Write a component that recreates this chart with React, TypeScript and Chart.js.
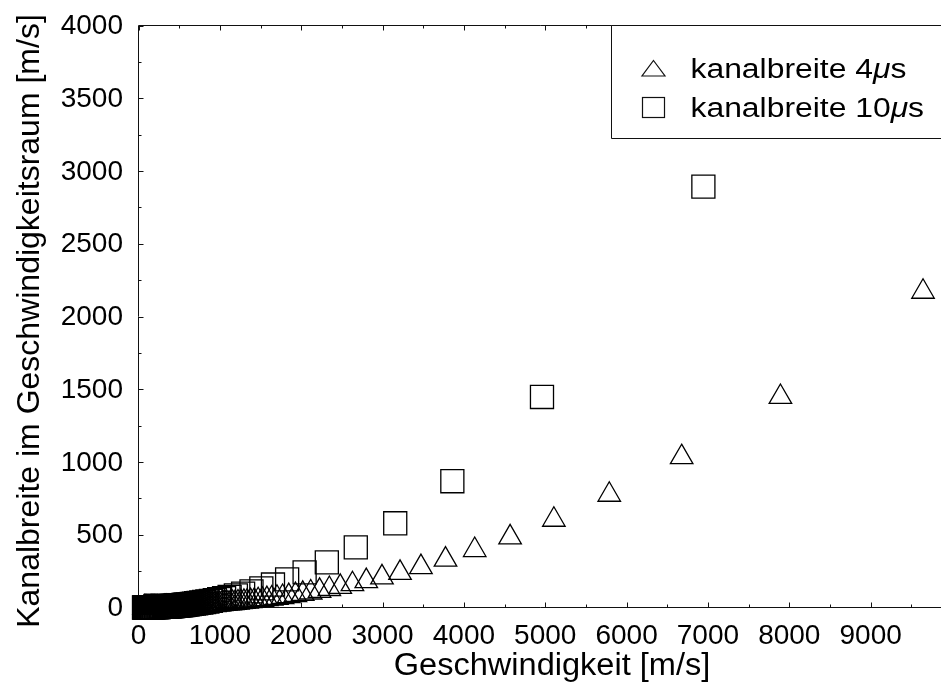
import React, { useEffect, useRef } from "react";
import { Chart, registerables } from "chart.js";
Chart.register(...registerables);

// Kanalbreite 4 µs: velocity [m/s] and channel width in velocity space [m/s]
const speed4 = [
  9644, 7891, 6677, 5787, 5106, 4568, 4133, 3774, 3472, 3215, 2993, 2800, 2630, 2480, 2346, 2226, 2117,
  2019, 1929, 1847, 1771, 1702, 1638, 1578, 1523, 1471, 1423, 1378, 1335, 1296, 1258, 1223, 1189, 1157,
  1127, 1099, 1072, 1046, 1021, 998, 975, 954, 933, 914, 895, 877, 859, 843, 827, 811, 796, 782, 768,
  755, 742, 729, 717, 706, 694, 684, 673, 663, 653, 643, 634, 625, 616, 607, 599, 591, 583, 575, 567,
  560, 553, 546, 539, 533, 526, 520, 514, 508, 502, 496, 490, 485, 480, 474, 469, 464, 459, 455, 450,
  445, 441, 432, 419, 408, 400, 389, 379, 369, 360, 349, 340, 330, 320, 311, 300, 290, 281, 270, 262,
  253, 243, 234, 226, 216.5, 208, 199.5, 192, 183.5, 176, 168, 160, 152, 144, 137, 129, 122, 116, 109,
  103, 97.4, 92, 86.7, 82, 76.7, 72, 68,
];
const width4 = [
  2170, 1447, 1033, 775, 603, 482, 395, 329, 278, 238, 207, 181, 160, 142, 127, 114, 103,
  94, 85.8, 78.6, 72.3, 66.8, 61.8, 57.4, 53.4, 49.9, 46.7, 43.8, 41.1, 38.7, 36.5, 34.4, 32.6, 30.9,
  29.3, 27.8, 26.5, 25.2, 24.0, 22.9, 21.9, 21.0, 20.1, 19.2, 18.5, 17.7, 17.0, 16.4, 15.7, 15.2, 14.6, 14.1, 13.6,
  13.1, 12.7, 12.3, 11.9, 11.5, 11.1, 10.8, 10.4, 10.1, 9.8, 9.5, 9.2, 9.0, 8.7, 8.5, 8.3, 8.0, 7.8, 7.6, 7.4,
  7.2, 7.0, 6.9, 6.7, 6.5, 6.4, 6.2, 6.1, 5.9, 5.8, 5.7, 5.5, 5.4, 5.3, 5.2, 5.1, 5.0, 4.9, 4.8, 4.7,
  4.6, 4.5, 4.3, 4.05, 3.83, 3.7, 3.49, 3.3, 3.14, 3.0, 2.8, 2.7, 2.51, 2.4, 2.23, 2.1, 1.94, 1.8, 1.68, 1.6,
  1.48, 1.4, 1.26, 1.2, 1.08, 1.0, 0.92, 0.85, 0.78, 0.71, 0.65, 0.59, 0.53, 0.48, 0.43, 0.39, 0.34, 0.31, 0.27,
  0.25, 0.22, 0.2, 0.17, 0.15, 0.14, 0.12, 0.11,
];

// Kanalbreite 10 µs
const speed10 = [
  6944, 4960, 3858, 3156, 2671, 2315, 2042, 1827, 1653, 1510, 1389, 1286, 1197, 1120, 1052, 992, 938,
  890, 847, 807, 772, 739, 709, 681, 655, 631, 609, 589, 569, 551, 534, 518, 503, 489, 476, 463, 451,
  440, 429, 418, 409, 399, 390, 382, 373, 366, 358, 351, 344, 337, 331, 325, 319, 313, 307, 297, 287,
  278, 269, 261, 250, 243, 233, 224, 216, 208, 198, 190, 182, 174.5, 166, 158.5, 152, 144, 137, 130,
  124, 117, 111, 105, 99, 92.6, 86.6, 81, 76, 71.6, 67.7,
];
const width10 = [
  2893, 1447, 868, 579, 413, 310, 241, 193, 158, 131.5, 111.3, 95.4, 82.7, 72.3, 63.8, 56.7, 50.8,
  45.7, 41.3, 37.6, 34.3, 31.4, 28.9, 26.7, 24.7, 23.0, 21.4, 20.0, 18.7, 17.5, 16.4, 15.5, 14.6, 13.8, 13.0, 12.3, 11.7,
  11.1, 10.6, 10.1, 9.6, 9.2, 8.8, 8.4, 8.0, 7.7, 7.4, 7.1, 6.8, 6.55, 6.3, 6.1, 5.85, 5.64, 5.4, 5.07, 4.7,
  4.44, 4.2, 3.93, 3.6, 3.4, 3.1, 2.89, 2.7, 2.49, 2.3, 2.07, 1.9, 1.75, 1.6, 1.45, 1.3, 1.2, 1.08, 0.97,
  0.88, 0.79, 0.71, 0.63, 0.56, 0.49, 0.43, 0.38, 0.33, 0.3, 0.26,
];

const xTickValues = [0, 1000, 2000, 3000, 4000, 5000, 6000, 7000, 8000, 9000];
const yTickValues = [0, 500, 1000, 1500, 2000, 2500, 3000, 3500, 4000];
const legendPrefixes = ["kanalbreite 4", "kanalbreite 10"];
const xTitle = "Geschwindigkeit [m/s]";
const yTitle = "Kanalbreite im Geschwindigkeitsraum [m/s]";

const FONT = '"Liberation Sans", Arial, Helvetica, sans-serif';

function stretchedText(
  ctx: CanvasRenderingContext2D,
  text: string,
  x: number,
  y: number,
  align: CanvasTextAlign,
  font: string,
  sx: number
) {
  ctx.save();
  ctx.font = font;
  ctx.textAlign = align;
  ctx.translate(x, y);
  ctx.scale(sx, 1);
  ctx.fillText(text, 0, 0);
  ctx.restore();
}

const framePlugin = {
  id: "matlabFrame",
  beforeDatasetsDraw(chart: any) {
    const { ctx, chartArea: a, scales } = chart;
    const x = scales.x;
    const y = scales.y;
    ctx.save();
    ctx.strokeStyle = "#111";
    ctx.lineWidth = 1;
    ctx.beginPath();
    ctx.moveTo(a.left, a.top);
    ctx.lineTo(a.right + 2, a.top);
    ctx.moveTo(a.left, a.top);
    ctx.lineTo(a.left, a.bottom);
    ctx.moveTo(a.left, a.bottom);
    ctx.lineTo(a.right + 2, a.bottom);
    for (let v = 0; v <= x.max; v += 500) {
      const px = Math.round(x.getPixelForValue(v)) + 0.5;
      const len = v % 1000 === 0 ? 5 : 3;
      ctx.moveTo(px, a.bottom);
      ctx.lineTo(px, a.bottom - len);
      ctx.moveTo(px, a.top);
      ctx.lineTo(px, a.top + len);
    }
    for (let v = 0; v <= y.max; v += 250) {
      const py = Math.round(y.getPixelForValue(v)) + 0.5;
      const len = v % 500 === 0 ? 5 : 3;
      ctx.moveTo(a.left, py);
      ctx.lineTo(a.left + len, py);
    }
    ctx.stroke();
    ctx.restore();
  },
  afterDraw(chart: any) {
    const { ctx, chartArea: a, scales } = chart;
    const x = scales.x;
    const y = scales.y;
    ctx.save();
    ctx.fillStyle = "#000";
    ctx.textBaseline = "middle";
    yTickValues.forEach((v) => {
      stretchedText(ctx, String(v), 123, y.getPixelForValue(v) + 1, "right", `28px ${FONT}`, 1);
    });
    xTickValues.forEach((v) => {
      stretchedText(ctx, String(v), x.getPixelForValue(v), 636, "center", `28px ${FONT}`, 1);
    });
    stretchedText(ctx, xTitle, 552, 666, "center", `31px ${FONT}`, 1.05);
    ctx.save();
    ctx.translate(30, 321);
    ctx.rotate(-Math.PI / 2);
    stretchedText(ctx, yTitle, 0, 0, "center", `32px ${FONT}`, 1.0);
    ctx.restore();

    // legend box
    const lx = 611.5;
    const ly = a.top;
    const lb = 138.5;
    ctx.fillStyle = "#fff";
    ctx.fillRect(lx, ly, 400, lb - ly);
    ctx.strokeStyle = "#111";
    ctx.lineWidth = 1;
    ctx.beginPath();
    ctx.moveTo(a.right + 2, ly);
    ctx.lineTo(lx, ly);
    ctx.lineTo(lx, lb);
    ctx.lineTo(a.right + 2, lb);
    ctx.stroke();
    ctx.lineWidth = 1.2;
    // triangle marker
    ctx.beginPath();
    ctx.moveTo(653.5, 60.5);
    ctx.lineTo(665, 76);
    ctx.lineTo(642, 76);
    ctx.closePath();
    ctx.stroke();
    // square marker
    ctx.strokeRect(642.5, 97.5, 22, 20);
    ctx.fillStyle = "#000";
    ctx.textBaseline = "alphabetic";
    const sx = 1.18;
    const baselines = [78, 117];
    legendPrefixes.forEach((p, i) => {
      const f = `27px ${FONT}`;
      const fi = `italic 27px ${FONT}`;
      ctx.font = f;
      const w1 = ctx.measureText(p).width * sx;
      stretchedText(ctx, p, 690.5, baselines[i], "left", f, sx);
      ctx.font = fi;
      const w2 = ctx.measureText("\u03bc").width * sx;
      stretchedText(ctx, "\u03bc", 690.5 + w1, baselines[i], "left", fi, sx);
      stretchedText(ctx, "s", 690.5 + w1 + w2, baselines[i], "left", f, sx);
    });
    ctx.restore();
  },
};

export default function App() {
  const canvasRef = useRef<HTMLCanvasElement | null>(null);
  useEffect(() => {
    if (!canvasRef.current) return;
    const chart = new Chart(canvasRef.current, {
      type: "scatter",
      data: {
        datasets: [
          {
            label: "kanalbreite 4µs",
            data: speed4.map((v, i) => ({ x: v, y: width4[i] })),
            pointStyle: "triangle",
            pointRadius: 13,
            borderColor: "#000",
            backgroundColor: "rgba(0,0,0,0)",
            borderWidth: 1.3,
            clip: false,
          },
          {
            label: "kanalbreite 10µs",
            data: speed10.map((v, i) => ({ x: v, y: width10[i] })),
            pointStyle: "rect",
            pointRadius: 16.3,
            borderColor: "#000",
            backgroundColor: "rgba(0,0,0,0)",
            borderWidth: 1.3,
            clip: false,
          },
        ] as any,
      },
      options: {
        animation: false,
        responsive: false,
        devicePixelRatio: 1,
        layout: { autoPadding: false, padding: { top: 25.5, left: 0, right: 0, bottom: 0 } },
        plugins: { legend: { display: false }, tooltip: { enabled: false } },
        events: [],
        scales: {
          x: {
            type: "linear",
            min: 0,
            max: 9865,
            grid: { display: false, drawTicks: false },
            border: { display: false },
            ticks: { display: false },
            afterFit: (s: any) => {
              s.height = 80.5;
            },
          },
          y: {
            type: "linear",
            min: 0,
            max: 4000,
            grid: { display: false, drawTicks: false },
            border: { display: false },
            ticks: { display: false },
            afterFit: (s: any) => {
              s.width = 138.5;
            },
          },
        },
      } as any,
      plugins: [framePlugin],
    });
    return () => chart.destroy();
  }, []);
  return (
    <div style={{ position: "absolute", left: 0, top: 0, width: 941, height: 688, background: "#fff" }}>
      <canvas ref={canvasRef} width={941} height={688} style={{ display: "block" }} />
    </div>
  );
}
